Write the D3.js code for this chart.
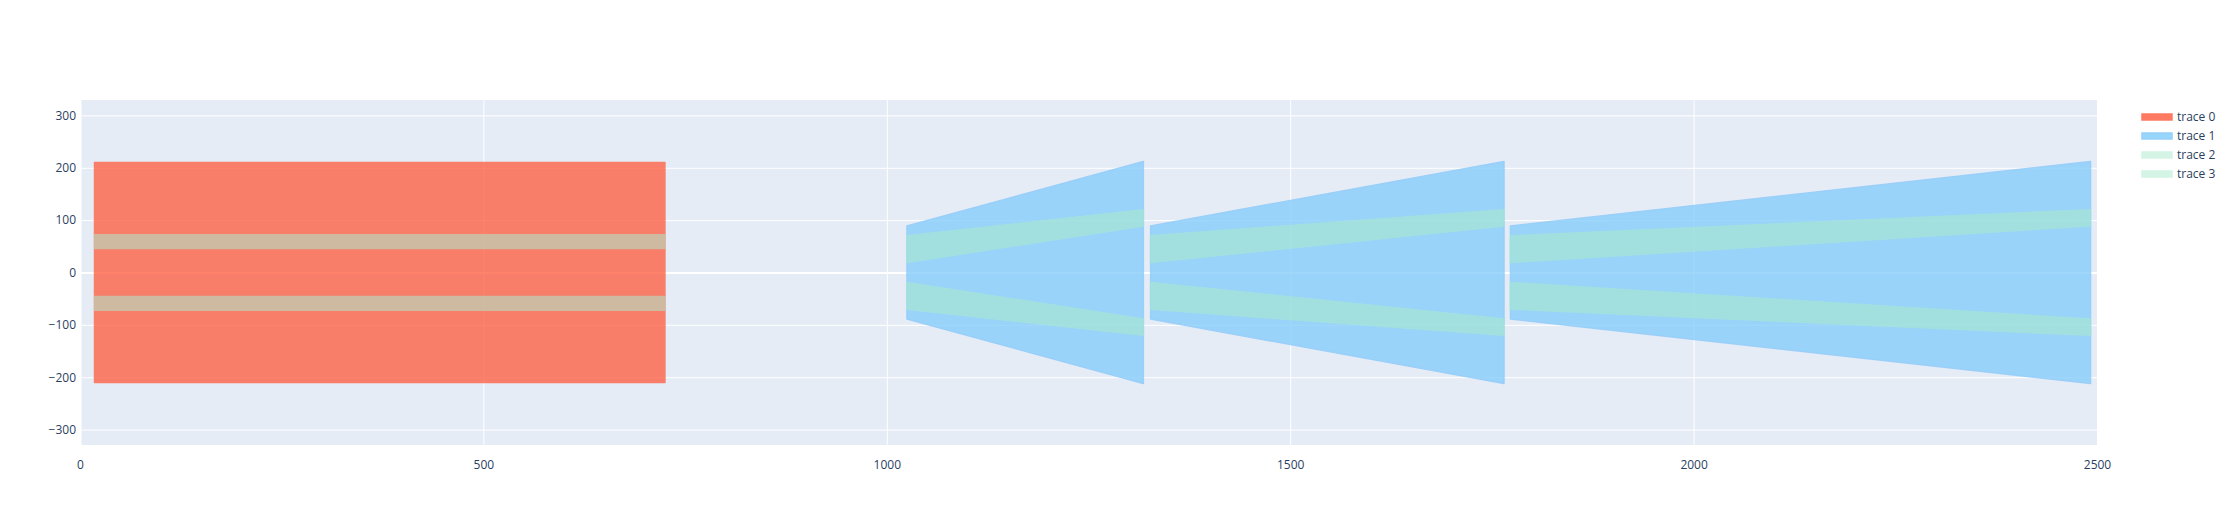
<!DOCTYPE html>
<html>
<head>
<meta charset="utf-8">
<script src="https://cdn.jsdelivr.net/npm/d3@7"></script>
<style>
  html, body { margin: 0; padding: 0; background: #fff; }
  text { font-family: "Open Sans", "Noto Sans", sans-serif; }
</style>
</head>
<body>
<svg id="chart" width="2236" height="525"></svg>
<script>
// ---- data ----
const xTicks = [0, 500, 1000, 1500, 2000, 2500];
const yTicks = [-300, -200, -100, 0, 100, 200, 300];
const traceNames = ["trace 0", "trace 1", "trace 2", "trace 3"];

// trace 0: one rectangle (x start, x end, y low, y high)
const trace0X = [18, 725];
const trace0Y = [-210, 210];

// trace 1: three trapezoids, narrow on the left, wide on the right
const trace1XStart = [1025, 1327, 1773];
const trace1XEnd   = [1318, 1765, 2492];
const trace1HalfLeft  = 89;
const trace1HalfRight = 212;

// trace 2 (upper bands) and trace 3 (lower bands)
const bandRectY   = [46, 72];     // band inside the rectangle
const bandTrapLeft  = [19, 70];   // band at left edge of each trapezoid
const bandTrapRight = [89, 120];  // band at right edge of each trapezoid

// ---- layout ----
const W = 2236, H = 525;
const margin = {l: 80, t: 100, r: 2236 - 2097, b: 80};
const x = d3.scaleLinear().domain([0, 2500]).range([margin.l, 2097]);
const y = d3.scaleLinear().domain([-329.5, 329.5]).range([H - margin.b, margin.t]);

const svg = d3.select("#chart");
svg.append("rect").attr("x", margin.l).attr("y", margin.t)
  .attr("width", x.range()[1] - margin.l).attr("height", y.range()[0] - margin.t)
  .attr("fill", "#E5ECF6");

// gridlines via axes
const gx = svg.append("g").attr("transform", `translate(0,${y.range()[0]})`)
  .call(d3.axisBottom(x).tickValues(xTicks).tickSize(-(y.range()[0] - margin.t)).tickFormat(d3.format("d")));
gx.select(".domain").remove();
gx.selectAll(".tick line").attr("stroke", "#fff").attr("stroke-width", d => d === 0 ? 2 : 1);
gx.selectAll(".tick text").attr("dy", "0").attr("y", 14).attr("dominant-baseline", "hanging")
  .attr("fill", "#2a3f5f").attr("font-size", 12);

const fmtY = d => (d < 0 ? "\u2212" + Math.abs(d) : String(d));
const gy = svg.append("g").attr("transform", `translate(${margin.l},0)`)
  .call(d3.axisLeft(y).tickValues(yTicks).tickSize(-(x.range()[1] - margin.l)).tickFormat(fmtY));
gy.select(".domain").remove();
gy.selectAll(".tick line").attr("stroke", "#fff").attr("stroke-width", d => d === 0 ? 2 : 1);
gy.selectAll(".tick text").attr("x", -4).attr("fill", "#2a3f5f").attr("font-size", 12);

// ---- polygons ----
const line = d3.line().x(d => x(d[0])).y(d => y(d[1]));
const closed = pts => line(pts) + "Z";

const polys0 = [[[trace0X[0], trace0Y[0]], [trace0X[0], trace0Y[1]], [trace0X[1], trace0Y[1]], [trace0X[1], trace0Y[0]]]];

const polys1 = trace1XStart.map((xs, i) => {
  const xe = trace1XEnd[i];
  return [[xs, -trace1HalfLeft], [xs, trace1HalfLeft], [xe, trace1HalfRight], [xe, -trace1HalfRight]];
});

function bands(sign) {
  const out = [];
  out.push([[trace0X[0], sign * bandRectY[0]], [trace0X[0], sign * bandRectY[1]],
            [trace0X[1], sign * bandRectY[1]], [trace0X[1], sign * bandRectY[0]]]);
  trace1XStart.forEach((xs, i) => {
    const xe = trace1XEnd[i];
    out.push([[xs, sign * bandTrapLeft[0]], [xs, sign * bandTrapLeft[1]],
              [xe, sign * bandTrapRight[1]], [xe, sign * bandTrapRight[0]]]);
  });
  return out;
}
const polys2 = bands(1);
const polys3 = bands(-1);

const styles = [
  {fill: "rgb(255,99,71)", stroke: "rgb(255,99,71)", op: 0.8},
  {fill: "rgb(135,206,250)", stroke: "rgb(135,200,250)", op: 0.8},
  {fill: "rgb(170,236,205)", stroke: "rgb(170,236,205)", op: 0.55},
  {fill: "rgb(170,236,205)", stroke: "rgb(170,236,205)", op: 0.55}
];
const allPolys = [polys0, polys1, polys2, polys3];

const plotClip = svg.append("defs").append("clipPath").attr("id", "clip")
  .append("rect").attr("x", margin.l).attr("y", margin.t)
  .attr("width", x.range()[1] - margin.l).attr("height", y.range()[0] - margin.t);

const plotG = svg.append("g").attr("clip-path", "url(#clip)");
allPolys.forEach((polys, i) => {
  const g = plotG.append("g").attr("opacity", styles[i].op);
  g.selectAll("path").data(polys).join("path")
    .attr("d", closed)
    .attr("fill", styles[i].fill)
    .attr("stroke", styles[i].stroke)
    .attr("stroke-width", 1.5)
    .attr("stroke-linejoin", "round");
});

// ---- legend ----
const leg = svg.append("g").attr("transform", "translate(2142,117)");
traceNames.forEach((name, i) => {
  const row = leg.append("g").attr("transform", `translate(0,${i * 19})`);
  row.append("rect").attr("x", 0).attr("y", -3).attr("width", 30).attr("height", 6)
    .attr("fill", styles[i].fill).attr("stroke", styles[i].stroke).attr("stroke-width", 1.5)
    .attr("opacity", i < 2 ? 0.85 : 0.5);
  row.append("text").attr("x", 35).attr("y", 0).attr("dy", "0.35em")
    .attr("fill", "#2a3f5f").attr("font-size", 12).text(name);
});
</script>
</body>
</html>
